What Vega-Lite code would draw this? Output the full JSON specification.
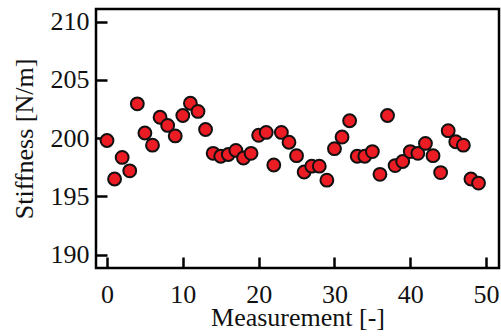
{
  "$schema": "https://vega.github.io/schema/vega-lite/v6.json",
  "autosize": {"type": "none"},
  "padding": {"left": 96, "top": 9, "right": 2, "bottom": 68},
  "width": 403,
  "height": 259,
  "background": "white",
  "config": {
    "view": {"stroke": "black", "strokeWidth": 2.5},
    "font": "Liberation Serif",
    "axis": {
      "grid": false,
      "domain": false,
      "ticks": true,
      "tickColor": "black",
      "tickWidth": 2.5,
      "tickSize": -11,
      "labelFont": "Liberation Serif",
      "labelFontSize": 26,
      "labelColor": "#111",
      "titleFont": "Liberation Serif",
      "titleFontSize": 26,
      "titleFontWeight": "normal",
      "titleColor": "#111"
    }
  },
  "data": {
    "values": [
      {"m": 0, "s": 199.8}, {"m": 1, "s": 196.5}, {"m": 2, "s": 198.35}, {"m": 3, "s": 197.2},
      {"m": 4, "s": 202.95}, {"m": 5, "s": 200.45}, {"m": 6, "s": 199.4}, {"m": 7, "s": 201.8},
      {"m": 8, "s": 201.1}, {"m": 9, "s": 200.2}, {"m": 10, "s": 201.95}, {"m": 11, "s": 203.0},
      {"m": 12, "s": 202.3}, {"m": 13, "s": 200.75}, {"m": 14, "s": 198.7}, {"m": 15, "s": 198.45},
      {"m": 16, "s": 198.6}, {"m": 17, "s": 198.95}, {"m": 18, "s": 198.3}, {"m": 19, "s": 198.7},
      {"m": 20, "s": 200.25}, {"m": 21, "s": 200.5}, {"m": 22, "s": 197.7}, {"m": 23, "s": 200.5},
      {"m": 24, "s": 199.65}, {"m": 25, "s": 198.5}, {"m": 26, "s": 197.1}, {"m": 27, "s": 197.6},
      {"m": 28, "s": 197.6}, {"m": 29, "s": 196.4}, {"m": 30, "s": 199.1}, {"m": 31, "s": 200.1},
      {"m": 32, "s": 201.5}, {"m": 33, "s": 198.45}, {"m": 34, "s": 198.45}, {"m": 35, "s": 198.85},
      {"m": 36, "s": 196.9}, {"m": 37, "s": 201.95}, {"m": 38, "s": 197.65}, {"m": 39, "s": 198.0},
      {"m": 40, "s": 198.85}, {"m": 41, "s": 198.7}, {"m": 42, "s": 199.55}, {"m": 43, "s": 198.5},
      {"m": 44, "s": 197.05}, {"m": 45, "s": 200.65}, {"m": 46, "s": 199.7}, {"m": 47, "s": 199.4},
      {"m": 48, "s": 196.5}, {"m": 49, "s": 196.15}
    ]
  },
  "mark": {"type": "point", "shape": "circle", "filled": true, "fill": "#ec1c24", "stroke": "#111", "strokeWidth": 2, "size": 165, "opacity": 1},
  "encoding": {
    "x": {
      "field": "m", "type": "quantitative", "title": "Measurement [-]",
      "scale": {"domain": [-1.45, 51.7], "nice": false, "zero": false},
      "axis": {"values": [0, 10, 20, 30, 40, 50], "labelPadding": 24, "titlePadding": -3, "labelFont": "Liberation Serif", "labelFontSize": 26}
    },
    "y": {
      "field": "s", "type": "quantitative", "title": "Stiffness [N/m]",
      "scale": {"domain": [188.86, 211.09], "nice": false, "zero": false},
      "axis": {"values": [190, 195, 200, 205, 210], "labelPadding": 18, "titlePadding": 13, "labelFont": "Liberation Serif", "labelFontSize": 26}
    }
  }
}
